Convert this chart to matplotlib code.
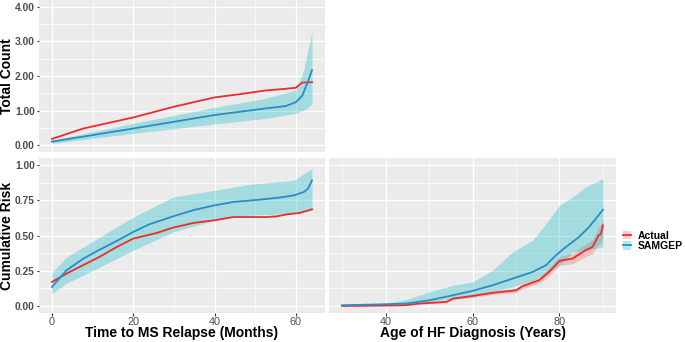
import matplotlib
matplotlib.use("Agg")
import matplotlib.pyplot as plt
from matplotlib.lines import Line2D
from matplotlib.patches import Patch
from matplotlib.ticker import MultipleLocator

plt.rcParams['font.family'] = ['Liberation Sans', 'DejaVu Sans']

# ---- Total count vs time to MS relapse (months) ----
count_months = [0, 7.7, 20, 30, 40, 46, 52.5, 57.5, 60, 61.6, 64]
count_actual = [0.18, 0.48, 0.80, 1.11, 1.38, 1.47, 1.58, 1.63, 1.66, 1.81, 1.82]

count_sam_months = [0, 20, 40, 52.5, 57.5, 60, 61.6, 62.9, 64]
count_samgep = [0.10, 0.48, 0.87, 1.06, 1.13, 1.24, 1.43, 1.81, 2.17]

count_band_months = [0, 20, 40, 52.5, 60, 62, 63, 64]
count_band_low = [0.05, 0.34, 0.61, 0.77, 0.92, 1.01, 1.08, 1.20]
count_band_high = [0.14, 0.63, 1.09, 1.35, 1.59, 2.17, 2.75, 3.28]

# ---- Cumulative risk vs time to MS relapse (months) ----
ms_months = [0, 3.6, 7.7, 11.8, 15.9, 20, 25.8, 29.8, 34.8, 40, 44.6, 52.8, 55.3, 57.8, 61, 64]
ms_actual = [0.17, 0.23, 0.29, 0.35, 0.418, 0.478, 0.518, 0.556, 0.589, 0.608, 0.631, 0.631, 0.636,
             0.65, 0.66, 0.686]

ms_sam_months = [0, 3.6, 7.7, 11.8, 15.9, 20, 24, 29.8, 34.8, 40, 44.6, 51, 56, 59.6, 62, 63, 64]
ms_samgep = [0.135, 0.254, 0.336, 0.40, 0.461, 0.525, 0.58, 0.636, 0.68, 0.714, 0.738, 0.754, 0.769,
             0.785, 0.809, 0.832, 0.891]

ms_band_months = [0, 3.6, 7.7, 11.8, 20, 29.8, 40, 48.7, 59.4, 64]
ms_band_low = [0.088, 0.163, 0.218, 0.277, 0.395, 0.525, 0.608, 0.644, 0.656, 0.68]
ms_band_high = [0.24, 0.347, 0.418, 0.489, 0.631, 0.773, 0.82, 0.863, 0.891, 0.974]

# ---- Cumulative risk vs age of HF diagnosis (years) ----
hf_age = [30, 40, 44.4, 47.8, 54, 55.5, 60, 64.6, 70, 71.5, 75.3, 77.6, 80, 83, 86, 87.6, 89, 89.5, 90]
hf_actual = [0.0, 0.003, 0.005, 0.017, 0.029, 0.052, 0.071, 0.093, 0.111, 0.14, 0.182, 0.241, 0.32,
             0.336, 0.395, 0.419, 0.502, 0.51, 0.572]
hf_actual_low = [0.0, 0.0, 0.002, 0.012, 0.022, 0.043, 0.060, 0.080, 0.096, 0.122, 0.160, 0.214, 0.288,
                 0.300, 0.350, 0.370, 0.440, 0.450, 0.490]
hf_actual_high = [0.005, 0.008, 0.010, 0.022, 0.036, 0.061, 0.082, 0.106, 0.126, 0.158, 0.204, 0.268,
                  0.352, 0.372, 0.440, 0.468, 0.560, 0.580, 0.620]

hf_sam_age = [30, 40, 44.8, 50.1, 55.5, 60, 64.6, 69.2, 73.8, 76.9, 79.2, 81.5, 84.5, 86.8, 88.8, 90]
hf_samgep = [0.005, 0.012, 0.017, 0.04, 0.076, 0.107, 0.147, 0.194, 0.241, 0.289, 0.36, 0.419, 0.49,
             0.56, 0.636, 0.683]

hf_band_age = [30, 40, 44.8, 50.1, 55.5, 60, 64.6, 69.2, 73.8, 76.9, 80, 83, 86, 90]
hf_band_low = [0.0, 0.005, 0.012, 0.029, 0.052, 0.064, 0.10, 0.135, 0.182, 0.23, 0.289, 0.383, 0.395,
               0.419]
hf_band_high = [0.01, 0.02, 0.045, 0.10, 0.147, 0.17, 0.253, 0.383, 0.466, 0.584, 0.714, 0.773, 0.844,
                0.903]

RED = '#EE2B2B'
RED_FILL = '#F08080'
BLUE = '#2B8CC4'
CYAN = '#00B8C0'
BG = '#EBEBEB'
TICK_GREY = '#4D4D4D'

W, H = 685, 342
fig = plt.figure(figsize=(W / 100, H / 100), dpi=100)


def px_axes(left, top, right, bottom):
    """Place an axes using pixel edges measured from the top-left corner"""
    return fig.add_axes([left / W, (H - bottom) / H, (right - left) / W, (bottom - top) / H])


def style_panel(ax, x_step, y_step, show_x=True, show_y=True):
    """ggplot-like grey panel with white major and minor grid lines"""
    ax.set_facecolor(BG)
    for side in ax.spines.values():
        side.set_visible(False)
    ax.xaxis.set_major_locator(MultipleLocator(x_step))
    ax.xaxis.set_minor_locator(MultipleLocator(x_step / 2))
    ax.yaxis.set_major_locator(MultipleLocator(y_step))
    ax.yaxis.set_minor_locator(MultipleLocator(y_step / 2))
    ax.grid(which='major', color='white', linewidth=1.0)
    ax.grid(which='minor', color='white', linewidth=0.5)
    ax.set_axisbelow(True)
    ax.tick_params(which='minor', length=0)
    ax.tick_params(which='major', length=1.8, width=0.8, color='#333333',
                   labelcolor=TICK_GREY, pad=1.2)
    ax.tick_params(axis='x', labelsize=7.8)
    ax.tick_params(axis='y', labelsize=7.4)
    ax.yaxis.set_major_formatter(lambda v, p: f'{v:.2f}')
    for lab in ax.get_yticklabels():
        lab.set_fontweight('bold')
    if not show_x:
        ax.tick_params(axis='x', labelbottom=False, length=0)
    if not show_y:
        ax.tick_params(axis='y', labelleft=False, length=0)


# top left: total count
ax1 = px_axes(39, 0, 325, 152)
ax1.plot(count_months, count_actual, color=RED, linewidth=1.3)
ax1.fill_between(count_band_months, count_band_low, count_band_high, color=CYAN, alpha=0.3,
                 linewidth=0)
ax1.plot(count_sam_months, count_samgep, color=BLUE, linewidth=1.3)
ax1.set_xlim(-3.2, 67.2)
ax1.set_ylim(-0.2, 4.2)
style_panel(ax1, 20, 1, show_x=False)
ax1.set_ylabel('Total Count', fontsize=10, fontweight='bold')
ax1.yaxis.set_label_coords(-25 / 286, 0.5)

# bottom left: cumulative risk, MS relapse
ax2 = px_axes(39, 158, 325, 313)
ax2.plot(ms_months, ms_actual, color=RED, linewidth=1.3)
ax2.fill_between(ms_band_months, ms_band_low, ms_band_high, color=CYAN, alpha=0.3, linewidth=0)
ax2.plot(ms_sam_months, ms_samgep, color=BLUE, linewidth=1.3)
ax2.set_xlim(-3.2, 67.2)
ax2.set_ylim(-0.05, 1.05)
style_panel(ax2, 20, 0.25)
ax2.set_ylabel('Cumulative Risk', fontsize=10, fontweight='bold')
ax2.yaxis.set_label_coords(-25 / 286, 0.5)
ax2.set_xlabel('Time to MS Relapse (Months)', fontsize=10, fontweight='bold')
ax2.xaxis.set_label_coords(0.5, -13 / 155)

# bottom right: cumulative risk, HF diagnosis
ax3 = px_axes(329, 158, 616, 313)
ax3.fill_between(hf_age, hf_actual_low, hf_actual_high, color=RED_FILL, alpha=0.4, linewidth=0)
ax3.plot(hf_age, hf_actual, color=RED, linewidth=1.3)
ax3.fill_between(hf_band_age, hf_band_low, hf_band_high, color=CYAN, alpha=0.3, linewidth=0)
ax3.plot(hf_sam_age, hf_samgep, color=BLUE, linewidth=1.3)
ax3.set_xlim(27, 93)
ax3.set_ylim(-0.05, 1.05)
style_panel(ax3, 20, 0.25, show_y=False)
ax3.set_xlabel('Age of HF Diagnosis (Years)', fontsize=10, fontweight='bold')
ax3.xaxis.set_label_coords(0.5, -13 / 155)

# legend with line-over-ribbon keys
handles = [(Patch(facecolor=RED_FILL, alpha=0.4), Line2D([], [], color=RED, linewidth=1.3)),
           (Patch(facecolor=CYAN, alpha=0.3), Line2D([], [], color=BLUE, linewidth=1.3))]
fig.legend(handles, ['Actual', 'SAMGEP'], loc='center left', bbox_to_anchor=(616 / W, (H - 241) / H),
           frameon=False, handlelength=0.75, handleheight=0.9, handletextpad=0.6, labelspacing=0.05,
           borderaxespad=0.3, prop={'weight': 'bold', 'size': 7.5})

fig.savefig('out.png', dpi=100)
